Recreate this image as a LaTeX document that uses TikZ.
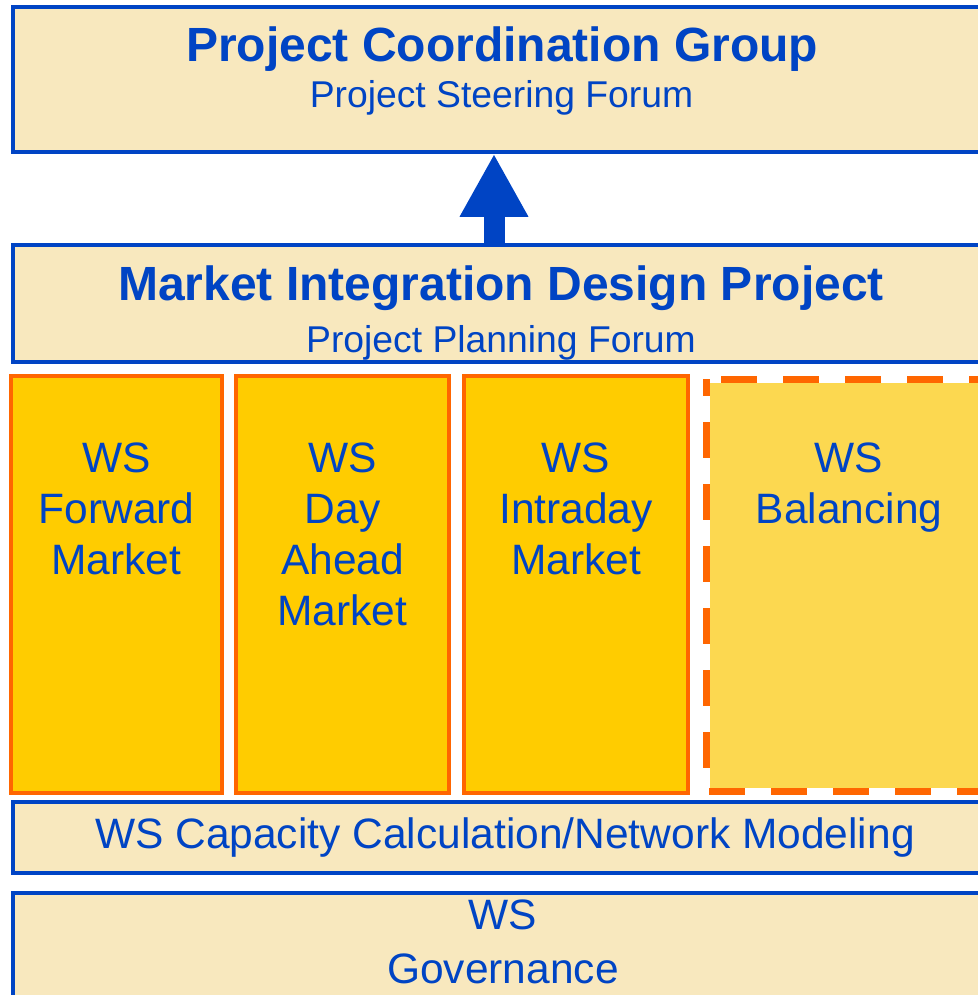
\documentclass[tikz,border=0pt]{standalone}
\usepackage{fontspec}
\setmainfont{Liberation Sans}
\usetikzlibrary{positioning,arrows.meta}

\definecolor{forumblue}{RGB}{0,68,196}
\definecolor{forumfill}{RGB}{248,232,190}
\definecolor{wsgold}{RGB}{255,204,0}
\definecolor{wslight}{RGB}{252,216,80}
\definecolor{wsorange}{RGB}{255,102,0}

\begin{document}
\begin{tikzpicture}[
  x=1pt, y=-1pt,
  font=\fontsize{42.5}{51}\selectfont,
  text=forumblue,
  forum/.style={
    draw=forumblue,
    line width=3.5pt,
    fill=forumfill,
    minimum width=980pt,
    inner sep=0pt
  },
  stream/.style={
    draw=wsorange,
    line width=4pt,
    fill=wsgold,
    minimum height=417pt,
    inner sep=0pt
  },
  pending/.style={
    fill=wslight,
    minimum width=286pt,
    minimum height=412pt,
    inner sep=0pt,
    outer sep=0pt
  },
  rimdash/.style={draw=wsorange, line width=7pt, dash pattern=on 36pt off 26pt, dash phase=19pt},
  rimwhite/.style={draw=white, line width=7pt},
  title/.style={font=\bfseries\fontsize{48}{58}\selectfont, anchor=base, inner sep=0pt},
  subtitle/.style={font=\fontsize{37.3}{44}\selectfont, anchor=base, inner sep=0pt},
  wstext/.style={align=center, inner sep=0pt},
  bigarrow/.style={line width=21pt, draw=forumblue, fill=forumblue, -{Triangle[length=63pt,width=64pt]}}
]
\useasboundingbox (0,0) rectangle (977,995);

% Steering level
\node[forum, minimum height=145pt] (pcg) at (503,79.5) {};
\node[title] (pcg-title) at (502,62) {Project Coordination Group};
\node[subtitle] (pcg-sub) at (501.5,108) {Project Steering Forum};

% Planning level
\node[forum, minimum height=117pt] (midp) at (503,303.5) {};
\node[title] (midp-title) at (501,300) {Market Integration Design Project};
\node[subtitle] (midp-sub) at (501,352) {Project Planning Forum};

% Arrow up
\draw[bigarrow] ([xshift=-9pt]midp.north) -- ([xshift=-9pt]pcg.south);

% Workstreams
\node[stream, minimum width=211pt] (fwd) at (116.5,584.5) {};
\node[stream, minimum width=213pt] (dam) at (342.5,584.5) {};
\node[stream, minimum width=224pt] (idm) at (576,584.5) {};
\node[pending] (bal) at (849,585) {};
\draw[rimwhite] (bal.north west) rectangle (bal.south east);
\draw[rimdash] (bal.north west) rectangle (bal.south east);

\node[wstext, below=69pt of fwd.north] (fwd-txt) {WS\\Forward\\Market};
\node[wstext, below=69pt of dam.north] (dam-txt) {WS\\Day\\Ahead\\Market};
\node[wstext, below=69pt of idm.north] (idm-txt) {WS\\Intraday\\Market};
\node[wstext, below=64pt of bal.north] (bal-txt) {WS\\Balancing};

% Cross-cutting workstreams
\node[forum, minimum height=71pt] (cap) at (503,837.5) {};
\node[anchor=base, inner sep=0pt] (cap-txt) at (505,848) {WS Capacity Calculation/Network Modeling};

\node[forum, minimum height=174pt] (gov) at (503,980) {};
\node[wstext, font=\fontsize{42.5}{54}\selectfont, below=8pt of gov.north] (gov-txt) {WS\\Governance};

\end{tikzpicture}
\end{document}
